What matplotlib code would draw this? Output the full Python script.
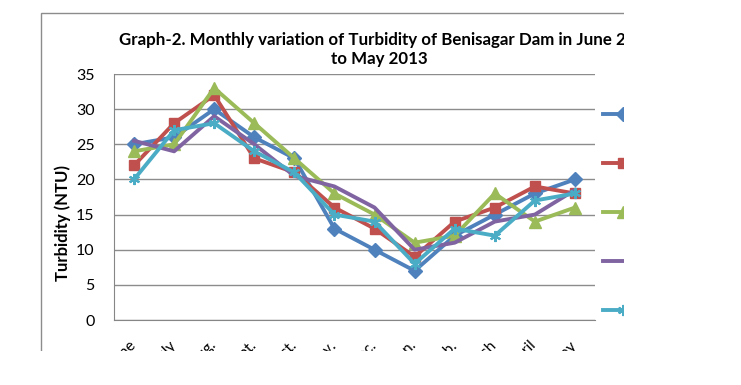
import matplotlib
matplotlib.use("Agg")
import matplotlib.pyplot as plt
from matplotlib.patches import Rectangle

plt.rcParams['font.family'] = ['Lato', 'DejaVu Sans']

months = ["June", "July", "Aug.", "Sept.", "Oct.", "Nov.", "Dec.", "Jan.",
          "Feb.", "March", "April", "May"]
site1 = [25, 26, 30, 26, 23, 13, 10, 7, 12, 15, 18, 20]
site2 = [22, 28, 32, 23, 21, 16, 13, 9, 14, 16, 19, 18]
site3 = [24, 25, 33, 28, 23, 18, 15, 11, 12, 18, 14, 16]
site4 = [25.5, 24, 29, 25, 20.5, 19, 16, 10, 11, 14, 15, 18.5]
site5 = [20, 27, 28, 24, 21, 15, 14, 8, 13, 12, 17, 18]
labels = ["Site-1", "Site-2", "Site-3", "Site-4", "Site-5"]

W, H = 741, 385
fig = plt.figure(figsize=(W / 100, H / 100), dpi=100)
ax = fig.add_axes([114 / W, 1 - 320 / H, 481 / W, 246 / H])

x = list(range(len(months)))
ax.plot(x, site1, color='#4F81BD', lw=2.8, marker='D', ms=7, label=labels[0])
ax.plot(x, site2, color='#C0504D', lw=2.8, marker='s', ms=7, label=labels[1])
ax.plot(x, site3, color='#9BBB59', lw=2.8, marker='^', ms=8, label=labels[2])
ax.plot(x, site4, color='#8064A2', lw=2.8, label=labels[3])
ax.plot(x, site5, color='#4BACC6', lw=2.8, marker=(6, 2, 0), ms=8, mew=1.5,
        label=labels[4])

ax.set_xlim(-0.5, len(months) - 0.5)
ax.set_ylim(0, 35)
ax.set_yticks(range(0, 36, 5))
ax.set_xticks(x)
ax.set_xticklabels(months, rotation=45, ha='right', va='center',
                   rotation_mode='anchor')
ax.tick_params(axis='x', length=0, pad=16.5, labelsize=11)
ax.tick_params(axis='y', length=0, pad=14, labelsize=11.5)
ax.grid(axis='y', color='#8c8c8c', lw=1)
ax.set_axisbelow(True)
for s in ['top', 'right']:
    ax.spines[s].set_visible(False)
for s in ['left', 'bottom']:
    ax.spines[s].set_color('#868686')
ax.set_ylabel("Turbidity (NTU)", fontsize=12, fontweight='bold')
ax.yaxis.set_label_coords(-0.09, 0.394)

ax.legend(loc='upper left', bbox_to_anchor=(603 / W, 1 - 108 / H),
          bbox_transform=fig.transFigure, frameon=False, handlelength=2.6,
          labelspacing=2.29, fontsize=11, borderpad=0, borderaxespad=0)

fig.text(119 / W, 1 - 40 / H,
         "Graph-2. Monthly variation of Turbidity of Benisagar Dam in June 2012",
         fontsize=12.15, fontweight='bold', ha='left', va='center')
fig.text(379 / W, 1 - 59 / H, "to May 2013", fontsize=12.15, fontweight='bold',
         ha='center', va='center')

# chart border
fig.add_artist(Rectangle((41 / W, 0), 1, 1 - 13 / H, transform=fig.transFigure,
                         fill=False, ec='#8c8c8c', lw=1, zorder=5))
# cropped region
fig.add_artist(Rectangle((624 / W, 0), 1, 1, transform=fig.transFigure,
                         fc='white', ec='none', zorder=10))
fig.add_artist(Rectangle((0, 0), 1, 1 - 351 / H, transform=fig.transFigure,
                         fc='white', ec='none', zorder=10))

fig.savefig("out.png", dpi=100)
